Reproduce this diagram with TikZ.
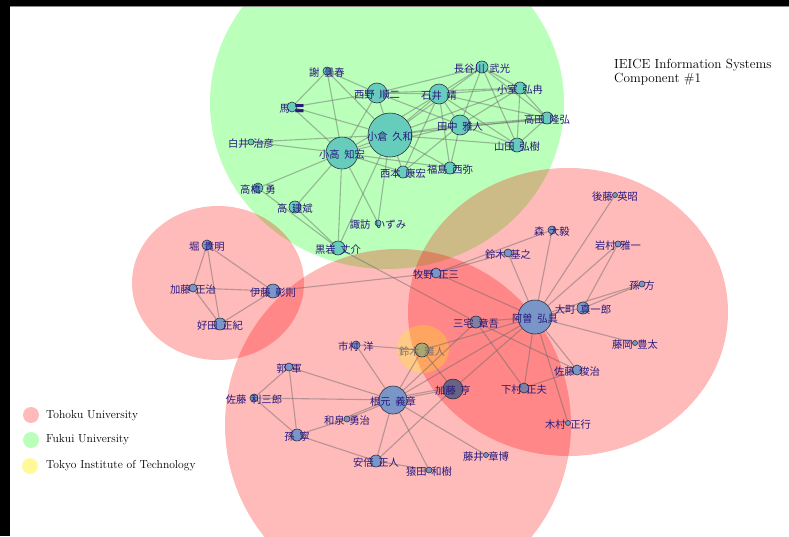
\documentclass[tikz,border=0pt]{standalone}
\usepackage{fontspec}
\newfontfamily\cjk{Noto Sans CJK JP}
\usetikzlibrary{backgrounds}
\definecolor{labc}{RGB}{40,25,125}
\definecolor{gnode}{RGB}{102,204,187}
\definecolor{pnode}{RGB}{122,150,200}
\definecolor{mnode}{RGB}{128,128,165}
\definecolor{dnode}{RGB}{105,98,135}
\definecolor{ynode}{RGB}{170,168,110}
\definecolor{vborder}{RGB}{45,50,65}
\definecolor{edgec}{RGB}{100,100,100}
\newcommand\jn[2]{#1\hspace{0.45em}#2}
\newcommand\vtxnode[6]{%
  \node[vtx,fill=#5,minimum size={2*#4pt}] (#1) at (#2,#3) {};
  \node[lab] (#1-l) at (#2,#3+1.5) {#6};}
\begin{document}
\begin{tikzpicture}[x=1pt,y=-1pt,
  vtx/.style={circle,draw=vborder,line width=0.6pt,inner sep=0pt},
  lab/.style={font=\cjk\fontsize{10.3}{10.3}\selectfont,text=labc,inner sep=0pt},
  edge/.style={draw=edgec,draw opacity=0.45,line width=1.1pt},
  tohoku/.style={fill=red,fill opacity=0.27},
  fukui/.style={fill=green,fill opacity=0.27},
  tokyo/.style={fill=yellow,fill opacity=0.28},
  legtext/.style={font=\fontsize{11.6}{13}\selectfont,anchor=west,inner sep=0pt}]
\useasboundingbox (0,0) rectangle (789,536);
% ---- Fukui cluster
\vtxnode{HS}{482}{67}{6}{gnode}{\jn{長谷川}{武光}}
\vtxnode{SH}{327}{71}{4}{gnode}{\jn{謝}{曇春}}
\vtxnode{NI}{377}{93}{10}{gnode}{\jn{西野}{順二}}
\vtxnode{IS}{439}{94}{10}{gnode}{\jn{石井}{靖}}
\vtxnode{KO}{520}{88}{6}{gnode}{\jn{小室}{弘冉}}
\vtxnode{MA}{292}{107}{5}{gnode}{\jn{馬}{〓}}
\vtxnode{TD}{547}{118}{6}{gnode}{\jn{高田}{隆弘}}
\vtxnode{TN}{460}{125}{10}{gnode}{\jn{田中}{雅人}}
\vtxnode{OG}{390}{135}{22}{gnode}{\jn{小倉}{久和}}
\vtxnode{KT}{342}{153}{16}{gnode}{\jn{小高}{知宏}}
\vtxnode{SI}{251}{142}{3}{gnode}{\jn{白井}{治彦}}
\vtxnode{YM}{517}{145}{7}{gnode}{\jn{山田}{弘樹}}
\vtxnode{NS}{403}{172}{6}{gnode}{\jn{西本}{康宏}}
\vtxnode{FK}{450}{168}{6}{gnode}{\jn{福島}{西弥}}
\vtxnode{TH}{258}{188}{5}{gnode}{\jn{高橋}{勇}}
\vtxnode{KB}{295}{207}{6}{gnode}{\jn{高}{建斌}}
\vtxnode{SW}{378}{223}{3}{gnode}{\jn{諏訪}{いずみ}}
\vtxnode{KR}{338}{248}{7}{gnode}{\jn{黒岩}{丈介}}
% ---- left Tohoku cluster
\vtxnode{HO}{207}{245}{5}{pnode}{\jn{堀}{貴明}}
\vtxnode{KM}{193}{288}{4}{pnode}{\jn{加藤}{正治}}
\vtxnode{IT}{273}{291}{7}{pnode}{\jn{伊藤}{彰則}}
\vtxnode{YO}{220}{324}{6}{pnode}{\jn{好田}{正紀}}
% ---- right Tohoku cluster
\vtxnode{GO}{615}{195}{2.5}{pnode}{\jn{後藤}{英昭}}
\vtxnode{MO}{552}{230}{4}{pnode}{\jn{森}{大毅}}
\vtxnode{IW}{618}{244}{3}{pnode}{\jn{岩村}{雅一}}
\vtxnode{SZ}{508}{253}{4}{pnode}{\jn{鈴木}{基之}}
\vtxnode{MK}{436}{273}{5}{pnode}{\jn{牧野}{正三}}
\vtxnode{SF}{642}{284}{3}{pnode}{\jn{孫}{方}}
\vtxnode{AS}{535}{317}{17}{pnode}{\jn{阿曽}{弘具}}
\vtxnode{OM}{583}{308}{6}{pnode}{\jn{大町}{真一郎}}
\vtxnode{MY}{476}{322}{6}{mnode}{\jn{三宅}{章吾}}
\vtxnode{FJ}{635}{343}{2.5}{pnode}{\jn{藤岡}{豊太}}
\vtxnode{ST}{577}{370}{5}{pnode}{\jn{佐藤}{俊治}}
\vtxnode{SM}{524}{388}{5}{mnode}{\jn{下村}{正夫}}
\vtxnode{KA}{453}{389}{10}{dnode}{\jn{加藤}{亨}}
\vtxnode{KI}{568}{423}{2.5}{pnode}{\jn{木村}{正行}}
\node[vtx,fill=ynode,minimum size=14pt] (SMA) at (422,350) {};
\node[lab,text={rgb,255:red,120;green,112;blue,112}] (SMA-l) at (422,351.5) {\jn{鈴木}{雅人}};
% ---- lower Tohoku cluster
\vtxnode{IC}{356}{345}{4}{pnode}{\jn{市村}{洋}}
\vtxnode{GK}{289}{367}{4}{pnode}{\jn{郭}{軍}}
\vtxnode{SR}{254}{398}{4}{pnode}{\jn{佐藤}{利三郎}}
\vtxnode{NE}{393}{400}{14}{pnode}{\jn{根元}{義章}}
\vtxnode{IZ}{347}{419}{3}{pnode}{\jn{和泉}{勇治}}
\vtxnode{SN}{297}{435}{6}{pnode}{\jn{孫}{寧}}
\vtxnode{AB}{376}{461}{6}{pnode}{\jn{安倍}{正人}}
\vtxnode{SA}{429}{470}{3}{pnode}{\jn{猿田}{和樹}}
\vtxnode{FI}{486}{455}{2.5}{pnode}{\jn{藤井}{章博}}
% ---- background: groups and edges
\begin{scope}[on background layer]
\fill[white] (0,0) rectangle (789,536);
\fill[fukui] (387,103) ellipse [x radius=177pt, y radius=166pt];
\fill[tohoku] (218,283) ellipse [x radius=86pt, y radius=77pt];
\fill[tohoku] (568,312) ellipse [x radius=160pt, y radius=144pt];
\fill[tohoku] (398,425) ellipse [x radius=173pt, y radius=176pt];
\fill[tokyo] (423,349) ellipse [x radius=26pt, y radius=24pt];
\foreach \a/\b in {HS/IS,HS/KO,HS/TD,HS/YM,HS/TN,HS/OG,HS/NI,
  SH/MA,SH/NI,SH/KT,SH/OG,MA/NI,MA/OG,MA/KT,
  NI/IS,NI/KO,NI/OG,NI/KT,NI/TN,
  IS/KO,IS/TD,IS/TN,IS/OG,IS/KT,IS/YM,IS/FK,IS/NS,
  KO/TD,KO/TN,KO/YM,KO/OG,TD/TN,TD/OG,TD/YM,
  TN/OG,TN/KT,TN/YM,TN/NS,TN/FK,
  OG/KT,OG/NS,OG/FK,OG/SI,OG/SW,OG/KR,OG/YM,
  KT/SI,KT/NS,KT/FK,KT/TH,KT/KB,KT/SW,KT/KR,TH/KR,KB/KR,KR/MY,
  HO/KM,HO/YO,HO/IT,KM/IT,KM/YO,YO/IT,IT/MK,
  GO/AS,MO/AS,MO/MK,SZ/MK,SZ/AS,IW/AS,IW/OM,SF/OM,SF/AS,OM/AS,FJ/AS,
  ST/AS,ST/SM,MY/ST,MY/SM,MY/AS,MK/AS,AS/SMA,AS/KA,AS/NE,AS/SM,AS/KI,
  SMA/KA,KA/NE,KA/AB,
  IC/SMA,IC/NE,GK/NE,GK/SR,GK/SN,SR/NE,SR/SN,IZ/NE,IZ/SN,SN/AB,
  NE/AB,NE/SA,NE/FI,NE/SMA,AB/SA,NE/MY}
  \draw[edge] (\a) -- (\b);
\draw[edge] ([yshift=-1.5pt]TD.center) -- ([yshift=-1.5pt]TN.center);
\draw[edge] ([yshift=2pt]KA.center) -- ([yshift=2pt]NE.center);
\draw[edge] ([yshift=2pt]IZ.center) -- ([yshift=2pt]NE.center);
\end{scope}
% ---- title and legend
\node[anchor=west,inner sep=0pt,align=left,font=\fontsize{13.2}{14}\selectfont] (title) at (614,72) {IEICE Information Systems\\Component \#1};
\fill[red,fill opacity=0.27] (31,415) circle [radius=8pt];
\fill[green,fill opacity=0.27] (31,440) circle [radius=8pt];
\fill[yellow,fill opacity=0.4] (30,466) circle [radius=8pt];
\node[legtext] (l1) at (46,416) {Tohoku University};
\node[legtext] (l2) at (46,440) {Fukui University};
\node[legtext] (l3) at (46,466) {Tokyo Institute of Technology};
% ---- frame bars
\fill[black] (0,0) rectangle (789,6);
\fill[black] (0,0) rectangle (10,536);
\draw[black!45,line width=0.8pt] (10,6.4) -- (789,6.4);
\end{tikzpicture}
\end{document}
